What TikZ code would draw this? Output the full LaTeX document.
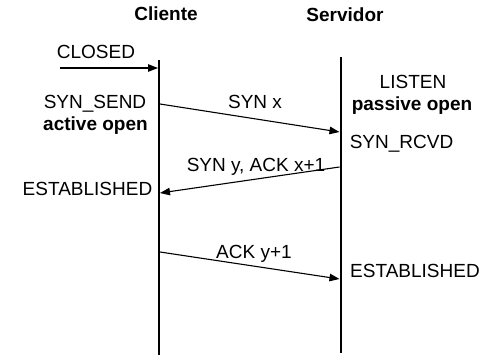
\documentclass[tikz,border=0pt]{standalone}
\usepackage{fontspec}
\setmainfont{Liberation Sans}
\usetikzlibrary{arrows.meta}
\begin{document}
\begin{tikzpicture}[x=1pt,y=-1pt,
  txt/.style={anchor=base,inner sep=0pt,font=\fontsize{19}{22}\selectfont},
  hdr/.style={txt,font=\fontsize{19}{22}\selectfont\bfseries},
  life/.style={line width=2.6pt},
  lifeS/.style={line width=2pt},
  msg/.style={line width=1.1pt,-{Triangle[length=10pt,width=7.5pt]}}]
\useasboundingbox (0,0) rectangle (491,357);
% lifelines
\coordinate (ctop) at (159,60);
\coordinate (cbot) at (159,355);
\coordinate (stop) at (340.5,57);
\coordinate (sbot) at (340.5,353);
\draw[life] (ctop) -- (cbot);
\draw[lifeS] (stop) -- (sbot);
% headers
\node[hdr] (cli) at (166,20) {Cliente};
\node[hdr] (srv) at (345,21) {Servidor};
% states
\node[txt] (closed) at (96,58) {CLOSED};
\node[txt] (synsend) at (95,108) {SYN\_SEND};
\node[hdr] (aopen) at (95.5,130) {active open};
\node[txt] (listen) at (413,88) {LISTEN};
\node[hdr] (popen) at (412,110) {passive open};
\node[txt] (synrcvd) at (401.5,148) {SYN\_RCVD};
\node[txt] (estc) at (87.5,195) {ESTABLISHED};
\node[txt] (ests) at (415,277) {ESTABLISHED};
% message end points
\coordinate (c0a) at (60,68);
\coordinate (c0b) at (158,68);
\coordinate (m1a) at (160,104);
\coordinate (m1b) at (339.5,132);
\coordinate (m2a) at (339.5,167);
\coordinate (m2b) at (160,193);
\coordinate (m3a) at (160,252);
\coordinate (m3b) at (339.5,279);
% messages
\draw[msg] (c0a) -- (c0b);
\draw[msg] (m1a) -- (m1b);
\draw[msg] (m2a) -- (m2b);
\draw[msg] (m3a) -- (m3b);
\node[txt] (l1) at (255,108.5) {SYN x};
\node[txt] (l2) at (256,171) {SYN y, ACK x+1};
\node[txt] (l3) at (254,258) {ACK y+1};
\end{tikzpicture}
\end{document}
